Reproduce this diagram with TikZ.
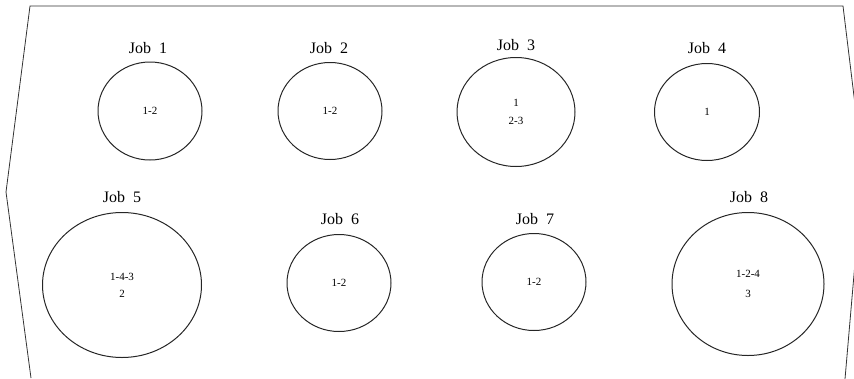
\documentclass[tikz,border=0pt]{standalone}
\usepackage{fontspec}
\setmainfont{Liberation Serif}
\usetikzlibrary{shapes.geometric}
\begin{document}
\begin{tikzpicture}[x=1pt,y=-1pt,
  job/.style={draw=black!85,line width=1pt,ellipse,inner sep=0pt,align=center,font=\fontsize{11}{18}\selectfont},
  joblabel/.style={font=\fontsize{16}{18}\selectfont,inner sep=0pt}]
\useasboundingbox (0,0) rectangle (854,378);
\begin{scope}
\clip (0,0) rectangle (854,378);
\coordinate (tl) at (30,6);
\coordinate (la) at (6,192);
\coordinate (bl) at (31,378);
\coordinate (tr) at (843,6);
\coordinate (ra) at (863,170);
\coordinate (br) at (845,379);
\draw[black!80,line width=0.8pt] (bl) -- (la) -- (tl) -- (tr) -- (ra) -- (br);
\end{scope}
% top row
\node[job,minimum width=104pt,minimum height=98pt] (j1) at (150,111) {1-2};
\node[joblabel] (l1) at (148,48) {Job\ \ 1};
\node[job,minimum width=104pt,minimum height=97pt] (j2) at (330,111) {1-2};
\node[joblabel] (l2) at (329,48) {Job\ \ 2};
\node[job,minimum width=118pt,minimum height=109pt] (j3) at (516,112) {1\\2-3};
\node[joblabel] (l3) at (516,45) {Job\ \ 3};
\node[job,minimum width=105pt,minimum height=97pt] (j4) at (707,112) {1};
\node[joblabel] (l4) at (707,48) {Job\ \ 4};
% bottom row
\node[job,minimum width=159pt,minimum height=145pt,font=\fontsize{11}{17}\selectfont] (j5) at (122,285) {1-4-3\\2};
\node[joblabel] (l5) at (122,197) {Job\ \ 5};
\node[job,minimum width=104pt,minimum height=97pt] (j6) at (339,283) {1-2};
\node[joblabel] (l6) at (340,219) {Job\ \ 6};
\node[job,minimum width=104pt,minimum height=97pt] (j7) at (534,282) {1-2};
\node[joblabel] (l7) at (535,219) {Job\ \ 7};
\node[job,minimum width=152pt,minimum height=143pt,font=\fontsize{11}{20}\selectfont] (j8) at (748,284) {1-2-4\\3};
\node[joblabel] (l8) at (749,197) {Job\ \ 8};
\end{tikzpicture}
\end{document}
